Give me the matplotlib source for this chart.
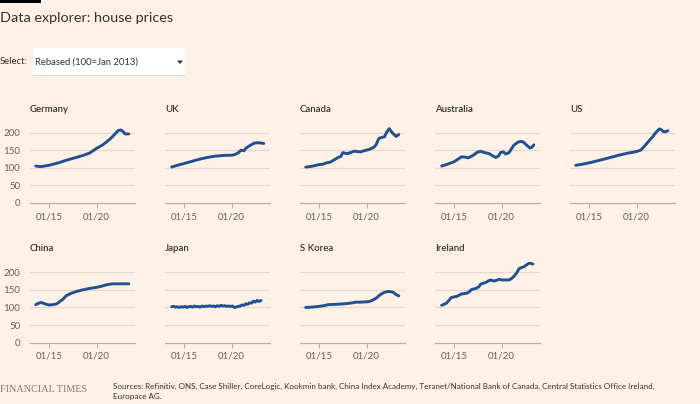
import matplotlib
matplotlib.use("Agg")
import matplotlib.pyplot as plt
from matplotlib.patches import Rectangle, Polygon

plt.rcParams['font.family'] = ['Lato', 'DejaVu Sans']

# ---------------- data (index, 100 = Jan 2013) ----------------
countries = ["Germany", "UK", "Canada", "Australia", "US",
             "China", "Japan", "S Korea", "Ireland"]

germany_t = [2013.6, 2014.1, 2015.0, 2016.0, 2016.8, 2017.7, 2018.6, 2019.3, 2020.0,
             2020.6, 2021.05, 2021.4, 2021.75, 2022.05, 2022.3, 2022.6, 2022.85, 2023.0, 2023.4]
germany_v = [105, 103, 107, 114, 121, 128, 135, 142, 155,
             164, 173, 181, 190, 199, 206, 207, 201, 196, 196]

uk_t = [2013.7, 2014.3, 2015.0, 2015.8, 2016.6, 2017.4, 2018.3, 2019.2, 2020.0,
        2020.3, 2020.7, 2021.0, 2021.3, 2021.5, 2021.7, 2022.0, 2022.4, 2022.8, 2023.1, 2023.4]
uk_v = [102, 107, 112, 118, 124, 129, 133, 135, 135.5,
        137, 142, 150, 148, 155, 159, 164, 170, 171, 170, 169]

canada_t = [2013.6, 2014.0, 2014.4, 2015.0, 2015.4, 2015.8, 2016.2, 2016.5, 2017.0, 2017.3,
            2017.5, 2017.8, 2018.0, 2018.4, 2018.7, 2019.0, 2019.4, 2019.7, 2020.0, 2020.4,
            2020.8, 2021.0, 2021.3, 2021.6, 2021.9, 2022.1, 2022.4, 2022.6, 2022.8, 2023.1, 2023.4]
canada_v = [102, 103, 105, 109, 110, 114, 116, 121, 129, 132,
            143, 141, 140, 144, 147, 146, 145, 148, 150, 153,
            159, 165, 183, 186, 188, 200, 211, 203, 197, 189, 194]

australia_t = [2013.7, 2014.2, 2014.6, 2015.0, 2015.4, 2015.8, 2016.2, 2016.5, 2017.0, 2017.5,
               2017.9, 2018.2, 2018.7, 2019.0, 2019.4, 2019.7, 2019.9, 2020.2, 2020.45, 2020.8,
               2021.0, 2021.3, 2021.7, 2022.0, 2022.3, 2022.6, 2023.0, 2023.2, 2023.4]
australia_v = [105, 109, 113, 117, 124, 131, 130, 128, 135, 145,
               146, 143, 140, 135, 129, 134, 143, 145, 139, 143,
               152, 164, 172, 175, 173, 165, 156, 158, 165]

us_t = [2013.6, 2014.5, 2015.5, 2016.8, 2017.5, 2018.2, 2019.0, 2020.0, 2020.45,
        2020.9, 2021.3, 2021.7, 2022.0, 2022.4, 2022.6, 2022.8, 2023.0, 2023.3]
us_v = [107, 111, 117, 126, 131, 136, 141, 146, 150,
        163, 176, 188, 199, 210, 208, 203, 202, 205]

china_t = [2013.6, 2013.9, 2014.2, 2014.6, 2015.0, 2015.4, 2015.8, 2016.1, 2016.5, 2016.8,
           2017.3, 2017.85, 2018.4, 2018.9, 2019.5, 2020.0, 2020.5, 2021.0, 2021.4, 2021.7,
           2022.3, 2023.0, 2023.4]
china_v = [108, 112, 114, 110, 107, 108, 110, 116, 124, 133,
           140, 145, 149, 152, 155, 157, 160, 164, 166, 167,
           167, 167, 167]

japan_t = [2013.7, 2013.9, 2014.1, 2014.3, 2014.5, 2014.7, 2014.9, 2015.1, 2015.3, 2015.5,
           2015.7, 2015.9, 2016.1, 2016.3, 2016.5, 2016.7, 2016.9, 2017.1, 2017.3, 2017.5,
           2017.7, 2017.9, 2018.1, 2018.3, 2018.5, 2018.7, 2018.9, 2019.1, 2019.3, 2019.5,
           2019.7, 2019.9, 2020.1, 2020.3, 2020.5, 2020.7, 2020.9, 2021.1, 2021.3, 2021.5,
           2021.7, 2021.9, 2022.1, 2022.3, 2022.5, 2022.7, 2022.9, 2023.1]
japan_v = [102, 103, 101, 102, 100, 102, 101, 103, 100, 102,
           103, 101, 104, 102, 103, 101, 104, 102, 104, 103,
           105, 103, 104, 102, 105, 103, 106, 104, 105, 103,
           104, 103, 104, 100, 101, 103, 104, 107, 106, 110,
           109, 113, 112, 118, 115, 120, 117, 120]

skorea_t = [2013.6, 2014.3, 2015.0, 2015.5, 2016.0, 2016.8, 2017.5, 2017.9, 2018.5, 2018.9,
            2019.4, 2020.0, 2020.3, 2020.6, 2021.0, 2021.3, 2021.6, 2021.9, 2022.2, 2022.5,
            2022.8, 2023.0, 2023.2, 2023.4]
skorea_v = [100, 101, 103, 105, 108, 109, 110, 111, 113, 115,
            115, 116, 117, 120, 126, 133, 139, 143, 145, 145,
            143, 139, 135, 133]

ireland_t = [2013.7, 2014.2, 2014.5, 2014.7, 2015.0, 2015.25, 2015.5, 2015.75, 2016.0, 2016.3,
             2016.6, 2016.8, 2017.0, 2017.3, 2017.6, 2017.8, 2018.1, 2018.35, 2018.6, 2018.85,
             2019.2, 2019.5, 2019.75, 2020.0, 2020.3, 2020.8, 2021.0, 2021.3, 2021.6, 2021.85,
             2022.1, 2022.4, 2022.7, 2022.9, 2023.1, 2023.3]
ireland_v = [106, 112, 121, 128, 130, 131, 134, 138, 139, 140,
             144, 150, 152, 154, 158, 166, 169, 171, 175, 178,
             175, 177, 180, 178, 178, 178, 181, 188, 198, 210,
             213, 216, 222, 226, 225, 223]

series_t = [germany_t, uk_t, canada_t, australia_t, us_t, china_t, japan_t, skorea_t, ireland_t]
series_v = [germany_v, uk_v, canada_v, australia_v, us_v, china_v, japan_v, skorea_v, ireland_v]

yticks = [0, 50, 100, 150, 200]
xticks = [2015.0, 2020.0]
xtick_labels = ["01/15", "01/20"]

title = "Data explorer: house prices"
select_label = "Select:"
select_value = "Rebased (100=Jan 2013)"
source_text = ("Sources: Refinitiv, ONS, Case Shiller, CoreLogic, Kookmin bank, China Index Academy, "
               "Teranet/National Bank of Canada, Central Statistics Office Ireland,\nEuropace AG.")

# ---------------- styling ----------------
BG = "#FFF1E5"
LINE = "#1f5190"
GRID = "#e5d9cd"
AXIS = "#b8aea5"
TEXT = "#33302e"
TICK = "#66605c"

W, H = 700, 404
fig = plt.figure(figsize=(W / 100, H / 100), dpi=100, facecolor=BG)

def fx(px):
    return px / W

def fy(py):
    return 1 - py / H

# top black bar
fig.patches.append(Rectangle((0, fy(2.5)), fx(41), 2.5 / H, transform=fig.transFigure,
                             facecolor="#000000", edgecolor="none"))

fig.text(fx(0), fy(18), title, fontsize=10.4, color=TEXT, va="center", ha="left")

# select dropdown
fig.text(fx(0), fy(62), select_label, fontsize=6.8, color=TEXT, va="center", ha="left")
fig.patches.append(Rectangle((fx(33), fy(75)), fx(152), 27 / H, transform=fig.transFigure,
                             facecolor="white", edgecolor="none"))
fig.patches.append(Rectangle((fx(33), fy(75.5)), fx(152), 0.8 / H, transform=fig.transFigure,
                             facecolor="#e0d8d0", edgecolor="none"))
fig.text(fx(35), fy(62), select_value, fontsize=6.8, color=TEXT, va="center", ha="left")
fig.patches.append(Polygon([(fx(177), fy(60.5)), (fx(183), fy(60.5)), (fx(180), fy(64))],
                           closed=True, transform=fig.transFigure,
                           facecolor="#33302e", edgecolor="none"))

# panels
YMAX = 230
col_left = [30, 165, 300, 435, 570]
row_zero = [203, 342.7]
px_per_unit = 70.5 / 200
panel_w = 105

for i, name in enumerate(countries):
    r, c = divmod(i, 5)
    left = col_left[c]
    bottom = row_zero[r]
    height_px = YMAX * px_per_unit
    ax = fig.add_axes([fx(left), fy(bottom), fx(panel_w), height_px / H])
    ax.set_facecolor("none")
    ax.set_xlim(2013.0, 2024.05)
    ax.set_ylim(0, YMAX)
    for yv in yticks[1:]:
        ax.axhline(yv, color=GRID, lw=0.9, zorder=1)
    for s in ["top", "right", "left"]:
        ax.spines[s].set_visible(False)
    ax.spines["bottom"].set_color(AXIS)
    ax.spines["bottom"].set_linewidth(0.9)
    ax.plot(series_t[i], series_v[i], color=LINE, lw=2.1, solid_capstyle="round",
            solid_joinstyle="round", zorder=3)
    ax.set_xticks(xticks)
    ax.set_xticklabels(xtick_labels)
    ax.tick_params(axis="x", length=3.5, width=0.8, color=AXIS, labelsize=7,
                   labelcolor=TICK, pad=3)
    ax.set_yticks(yticks)
    if c == 0:
        ax.tick_params(axis="y", length=0, labelsize=7, labelcolor=TICK, pad=7)
    else:
        ax.tick_params(axis="y", length=0, labelleft=False)
    fig.text(fx(left), fy(bottom - 94), name, fontsize=6.9, color=TEXT,
             fontweight="semibold", va="center", ha="left")

# footer
fig.text(fx(0), fy(389), "FINANCIAL TIMES", fontsize=7.3, color="#807973",
         family=["Liberation Serif", "DejaVu Serif"], va="center", ha="left")
fig.text(fx(113), fy(391.5), source_text, fontsize=5.8, color=TEXT, va="center", ha="left",
         linespacing=1.45)

fig.savefig("out.png", dpi=100, facecolor=BG)
